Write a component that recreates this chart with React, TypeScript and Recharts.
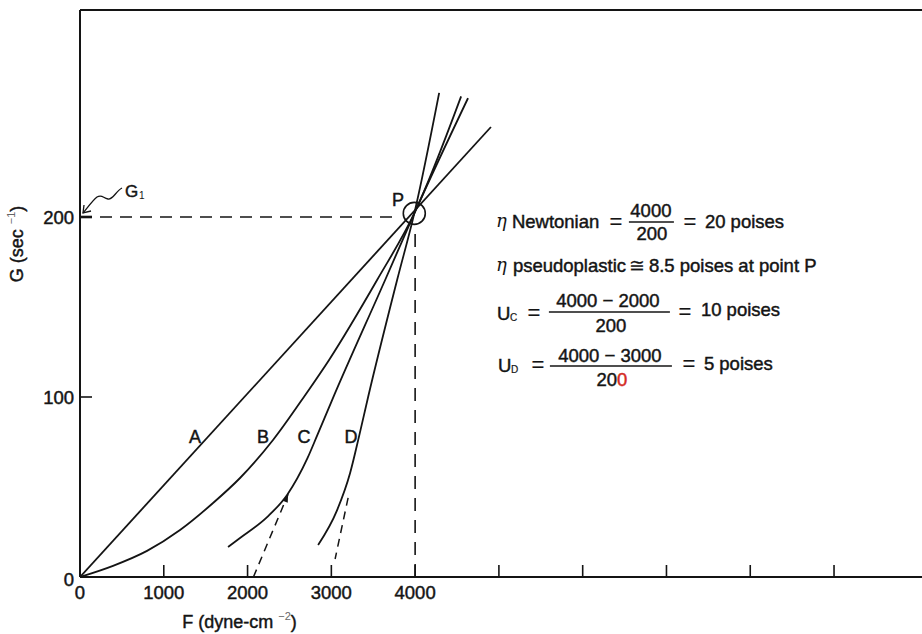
import React from 'react';
import { LineChart, Line, XAxis, YAxis, ReferenceLine, ReferenceDot } from 'recharts';

// ---- data ----
const xTicks = [0, 1000, 2000, 3000, 4000, 5000, 6000, 7000, 8000, 9000];
const xLabelMax = 4000;
const yTicks = [0, 100, 200];

const curveA_F = [0, 4905];
const curveA_G = [0, 250];

const curveB_F = [0, 394, 800, 1194, 1588, 1910, 2304, 2687, 2973, 3546, 3990, 4549];
const curveB_G = [0, 6.2, 14.5, 26.1, 41.1, 55, 76.1, 101, 120.6, 165, 202, 267];

const curveC_F = [1767, 1910, 2233, 2472, 2715, 2830, 3009, 3642, 3990, 4631];
const curveC_G = [16.7, 21.7, 33.3, 45.6, 66, 78.5, 98.3, 165, 202, 266];

const curveD_F = [2842, 3069, 3224, 3330, 3439, 3785, 3990, 4287];
const curveD_G = [17.8, 37.2, 57.8, 78, 100, 165, 202, 269];

const tangentC_F = [2070, 2484];
const tangentC_G = [0, 46];
const tangentD_F = [3200, 3045];
const tangentD_G = [44, 10];

const pointP = { F: 3990, G: 202 };
const guideF = 4000;
const guideG = 200;

const curveLabels = ['A', 'B', 'C', 'D'];
const curveLabelF = [1373, 2184, 2674, 3235];
const curveLabelG = [78, 78, 78, 78];

const toPts = (F: number[], G: number[]) => F.map((f, i) => ({ F: f, G: G[i] }));

const INK = '#141414';
const FONT = '"Liberation Sans", Arial, Helvetica, sans-serif';
const SERIF = '"DejaVu Serif", "Liberation Serif", serif';
const HEAVY = { stroke: INK, strokeWidth: 0.45 } as const;

const XTick = (props: any) => {
  const { x, y, payload } = props;
  const v = payload.value as number;
  return (
    <g>
      {v !== 0 && <line x1={x} y1={y} x2={x} y2={y - 12} stroke={INK} strokeWidth={1.6} />}
      {v <= xLabelMax && (
        <text x={x} y={y + 22} textAnchor="middle" fontSize={18.5} fill={INK} fontFamily={FONT} {...HEAVY}>
          {v}
        </text>
      )}
    </g>
  );
};

const YTick = (props: any) => {
  const { x, y, payload } = props;
  const v = payload.value as number;
  return (
    <g>
      {v !== 0 && <line x1={x} y1={y} x2={x + 12} y2={y} stroke={INK} strokeWidth={v === 200 ? 2.6 : 1.6} />}
      <text x={x - 6} y={y + (v === 0 ? 9 : 6.5)} textAnchor="end" fontSize={18.5} fill={INK} fontFamily={FONT} {...HEAVY}>
        {v}
      </text>
    </g>
  );
};

const Equations = (props: any) => {
  const { cx, cy } = props;
  const X = (v: number) => cx + (v - 499);
  const Y = (v: number) => cy + (v - 217);
  const t = { fontSize: 18.5, fill: INK, fontFamily: FONT, ...HEAVY } as const;
  const eq = { ...t, fontSize: 22, textAnchor: 'middle' as const, strokeWidth: 0.2 };
  const eta = { fontSize: 18, fill: INK, fontFamily: SERIF, fontStyle: 'italic' } as const;
  return (
    <g>
      {/* line 1 */}
      <text x={X(496)} y={Y(227)} {...eta}>η</text>
      <text x={X(512)} y={Y(228)} {...t}>Newtonian</text>
      <text x={X(616)} y={Y(229)} {...eq}>=</text>
      <text x={X(651)} y={Y(217)} textAnchor="middle" {...t}>4000</text>
      <line x1={X(629)} x2={X(674)} y1={Y(222)} y2={Y(222)} stroke={INK} strokeWidth={1.3} />
      <text x={X(652)} y={Y(240)} textAnchor="middle" {...t}>200</text>
      <text x={X(690)} y={Y(229)} {...eq}>=</text>
      <text x={X(705)} y={Y(228)} {...t}>20 poises</text>

      {/* line 2 */}
      <text x={X(496)} y={Y(271)} {...eta}>η</text>
      <text x={X(513)} y={Y(272)} {...t}>pseudoplastic</text>
      <text x={X(637)} y={Y(272)} textAnchor="middle" {...t} strokeWidth={0.2}>≅</text>
      <text x={X(649)} y={Y(272)} {...t}>8.5 poises at point P</text>

      {/* line 3 */}
      <text x={X(497)} y={Y(320)} {...t}>U</text>
      <text x={X(510)} y={Y(321)} {...t} fontSize={10} strokeWidth={0.2}>C</text>
      <text x={X(534)} y={Y(320)} {...eq}>=</text>
      <text x={X(608)} y={Y(307)} textAnchor="middle" {...t}>4000 − 2000</text>
      <line x1={X(549)} x2={X(670)} y1={Y(312)} y2={Y(312)} stroke={INK} strokeWidth={1.3} />
      <text x={X(611)} y={Y(332)} textAnchor="middle" {...t}>200</text>
      <text x={X(685)} y={Y(319)} {...eq}>=</text>
      <text x={X(701)} y={Y(316)} {...t}>10 poises</text>

      {/* line 4 */}
      <text x={X(498)} y={Y(372)} {...t}>U</text>
      <text x={X(511)} y={Y(373)} {...t} fontSize={10} strokeWidth={0.2}>D</text>
      <text x={X(538)} y={Y(372)} {...eq}>=</text>
      <text x={X(610)} y={Y(362)} textAnchor="middle" {...t}>4000 − 3000</text>
      <line x1={X(550)} x2={X(672)} y1={Y(366)} y2={Y(366)} stroke={INK} strokeWidth={1.3} />
      <text x={X(612)} y={Y(386)} textAnchor="middle" {...t}>
        20<tspan fill="#d42a22" stroke="#d42a22">0</tspan>
      </text>
      <text x={X(689)} y={Y(371)} {...eq}>=</text>
      <text x={X(704)} y={Y(370)} {...t}>5 poises</text>
    </g>
  );
};

const LetterLabel = (text: string) => (props: any) => (
  <text x={props.cx} y={props.cy + 6.5} textAnchor="middle" fontSize={18} fill={INK} fontFamily={FONT} {...HEAVY}>
    {text}
  </text>
);

const G1Mark = (props: any) => {
  const { cx, cy } = props;
  const X = (v: number) => cx + (v - 80);
  const Y = (v: number) => cy + (v - 217);
  return (
    <g>
      <text x={X(125)} y={Y(197)} fontSize={17} fill={INK} fontFamily={FONT} {...HEAVY}>
        G
      </text>
      <text x={X(139)} y={Y(199)} fontSize={10} fill={INK} fontFamily={FONT}>
        1
      </text>
      <path
        d={`M ${X(122)} ${Y(188)} C ${X(116)} ${Y(191)} ${X(113)} ${Y(200)} ${X(108)} ${Y(199)} C ${X(103)} ${Y(198)} ${X(102)} ${Y(194)} ${X(97)} ${Y(197)} C ${X(93)} ${Y(200)} ${X(88)} ${Y(207)} ${X(83)} ${Y(213)}`}
        fill="none"
        stroke={INK}
        strokeWidth={1.3}
      />
      <path
        d={`M ${X(84)} ${Y(205)} L ${X(83)} ${Y(213)} L ${X(91)} ${Y(211)}`}
        fill="none"
        stroke={INK}
        strokeWidth={1.3}
      />
    </g>
  );
};

const ArrowHead = (props: any) => {
  const { cx, cy } = props;
  return (
    <polygon
      points="0,0 -8,-3 -8,3"
      transform={`translate(${cx},${cy}) rotate(-67)`}
      fill={INK}
    />
  );
};

const XTitle = (props: any) => (
  <text x={props.cx} y={props.cy + 51} textAnchor="middle" fontSize={18} fill={INK} fontFamily={FONT} {...HEAVY}>
    F (dyne-cm
    <tspan fontSize={11} dy={-8} dx={5} fill="#666" strokeWidth={0}>−2</tspan>
    <tspan dy={8}>)</tspan>
  </text>
);

const YTitle = (props: any) => (
  <text
    transform={`translate(${props.cx - 57}, ${props.cy}) rotate(-90)`}
    textAnchor="middle"
    fontSize={18}
    fill={INK}
    fontFamily={FONT}
    {...HEAVY}
  >
    G (sec
    <tspan fontSize={11} dy={-8} dx={5} fill="#666" strokeWidth={0}>−1</tspan>
    <tspan dy={8}>)</tspan>
  </text>
);

export default function App() {
  const lineProps = {
    type: 'monotone' as const,
    dataKey: 'G',
    stroke: INK,
    strokeWidth: 1.8,
    dot: false,
    activeDot: false,
    isAnimationActive: false,
  };
  return (
    <div style={{ position: 'absolute', left: 0, top: 0, background: '#fff' }}>
      <LineChart width={922} height={634} margin={{ top: 10, right: 0, left: 20, bottom: 27 }}>
        <XAxis
          type="number"
          dataKey="F"
          domain={[0, 10050]}
          ticks={xTicks}
          interval={0}
          tick={XTick}
          tickLine={false}
          tickSize={0}
          tickMargin={0}
          axisLine={{ stroke: INK, strokeWidth: 2 }}
          height={30}
          allowDataOverflow
        />
        <YAxis
          type="number"
          domain={[0, 315]}
          ticks={yTicks}
          interval={0}
          tick={YTick}
          tickLine={false}
          tickSize={0}
          tickMargin={0}
          axisLine={{ stroke: INK, strokeWidth: 2 }}
          width={60}
          allowDataOverflow
        />
        <ReferenceLine y={315} stroke={INK} strokeWidth={2} />
        <ReferenceLine
          segment={[{ x: 0, y: guideG }, { x: 3790, y: guideG }]}
          stroke={INK}
          strokeWidth={1.6}
          strokeDasharray="12 8"
        />
        <ReferenceLine
          segment={[{ x: guideF, y: 0 }, { x: guideF, y: 192 }]}
          stroke={INK}
          strokeWidth={1.6}
          strokeDasharray="13 9"
        />
        <Line {...lineProps} type="linear" data={toPts(curveA_F, curveA_G)} />
        <Line {...lineProps} data={toPts(curveB_F, curveB_G)} />
        <Line {...lineProps} data={toPts(curveC_F, curveC_G)} />
        <Line {...lineProps} data={toPts(curveD_F, curveD_G)} />
        <Line {...lineProps} type="linear" strokeWidth={1.5} strokeDasharray="8 6" data={toPts(tangentC_F, tangentC_G)} />
        <Line {...lineProps} type="linear" strokeWidth={1.5} strokeDasharray="8 6" data={toPts(tangentD_F, tangentD_G)} />
        <ReferenceDot x={pointP.F} y={pointP.G} r={11} fill="none" stroke={INK} strokeWidth={1.6} />
        <ReferenceDot x={tangentC_F[1]} y={tangentC_G[1]} r={0} shape={ArrowHead} />
        {curveLabels.map((l, i) => (
          <ReferenceDot key={l} x={curveLabelF[i]} y={curveLabelG[i]} r={0} shape={LetterLabel(l)} />
        ))}
        <ReferenceDot x={3796} y={210} r={0} shape={LetterLabel('P')} />
        <ReferenceDot x={0} y={guideG} r={0} shape={G1Mark} />
        <ReferenceDot x={5000} y={guideG} r={0} shape={Equations} />
        <ReferenceDot x={1904} y={0} r={0} shape={XTitle} />
        <ReferenceDot x={0} y={185} r={0} shape={YTitle} />
      </LineChart>
    </div>
  );
}
